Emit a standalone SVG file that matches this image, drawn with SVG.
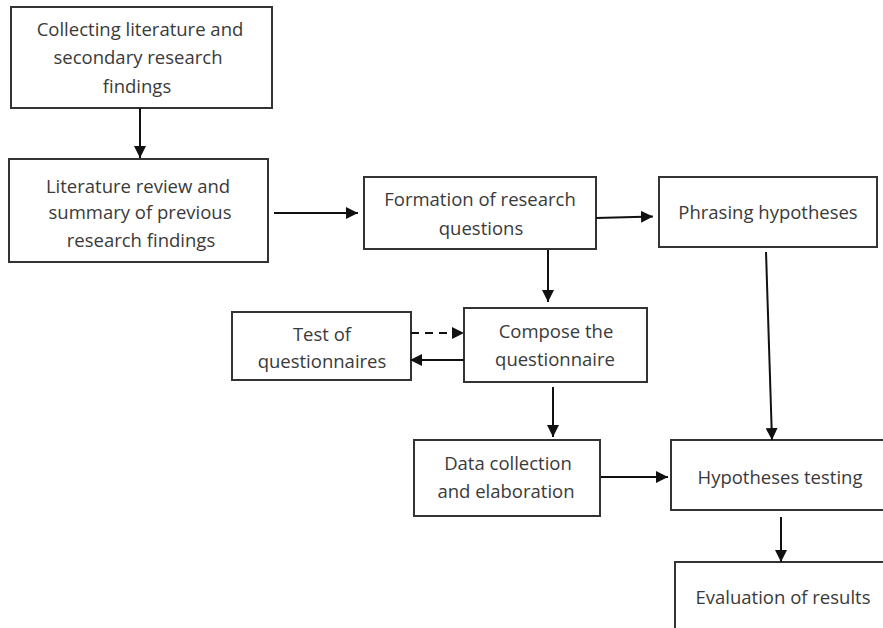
<svg xmlns="http://www.w3.org/2000/svg" width="883" height="628" viewBox="0 0 883 628">
<defs>
<style>
.box{fill:#fff;stroke:#333;stroke-width:2}
.t{font-family:"Open Sans","Liberation Sans",Arial,sans-serif;font-size:18.5px;fill:#3a3a3a;text-anchor:middle}
.c{stroke:#111;stroke-width:2;fill:none}
.d{stroke-dasharray:8,6}
</style>
<marker id="ah" viewBox="0 0 10 10" refX="10" refY="5" markerWidth="12" markerHeight="12" markerUnits="userSpaceOnUse" orient="auto">
<path d="M0,0 L10,5 L0,10 z" fill="#111"/>
</marker>
</defs>
<rect width="883" height="628" fill="#fff"/>
<g id="n1"><rect class="box" x="11" y="7" width="261" height="101"/>
<text class="t" x="140" y="36">Collecting literature and</text>
<text class="t" x="138" y="64">secondary research</text>
<text class="t" x="137" y="93">findings</text></g>
<g id="n2"><rect class="box" x="9" y="159" width="259" height="103"/>
<text class="t" x="138" y="193">Literature review and</text>
<text class="t" x="140" y="219">summary of previous</text>
<text class="t" x="141" y="247">research findings</text></g>
<g id="n3"><rect class="box" x="364" y="177" width="232" height="72"/>
<text class="t" x="480" y="206">Formation of research</text>
<text class="t" x="481" y="235">questions</text></g>
<g id="n4"><rect class="box" x="659" y="177" width="218" height="70"/>
<text class="t" x="768" y="219">Phrasing hypotheses</text></g>
<g id="n5"><rect class="box" x="232" y="312" width="179" height="68"/>
<text class="t" x="322" y="341">Test of</text>
<text class="t" x="322" y="368">questionnaires</text></g>
<g id="n6"><rect class="box" x="464" y="308" width="183" height="74"/>
<text class="t" x="556" y="338">Compose the</text>
<text class="t" x="555" y="366">questionnaire</text></g>
<g id="n7"><rect class="box" x="414" y="440" width="186" height="76"/>
<text class="t" x="508" y="470">Data collection</text>
<text class="t" x="506" y="498">and elaboration</text></g>
<g id="n8"><rect class="box" x="671" y="440" width="230" height="70"/>
<text class="t" x="780" y="484">Hypotheses testing</text></g>
<g id="n9"><rect class="box" x="675" y="562" width="226" height="80"/>
<text class="t" x="783" y="604">Evaluation of results</text></g>
<g id="connectors">
<line class="c" x1="140" y1="108" x2="140" y2="158" marker-end="url(#ah)"/>
<line class="c" x1="274" y1="213" x2="358" y2="213" marker-end="url(#ah)"/>
<line class="c" x1="596" y1="218" x2="653" y2="216.5" marker-end="url(#ah)"/>
<line class="c" x1="548" y1="250" x2="548" y2="302" marker-end="url(#ah)"/>
<line class="c d" x1="411" y1="333" x2="464" y2="333" marker-end="url(#ah)"/>
<line class="c" x1="464" y1="360" x2="410" y2="360" marker-end="url(#ah)"/>
<line class="c" x1="553" y1="387" x2="553" y2="437" marker-end="url(#ah)"/>
<line class="c" x1="601" y1="477" x2="668" y2="477" marker-end="url(#ah)"/>
<line class="c" x1="766" y1="252" x2="772" y2="440" marker-end="url(#ah)"/>
<line class="c" x1="781" y1="517" x2="781" y2="562" marker-end="url(#ah)"/>
</g>
</svg>
